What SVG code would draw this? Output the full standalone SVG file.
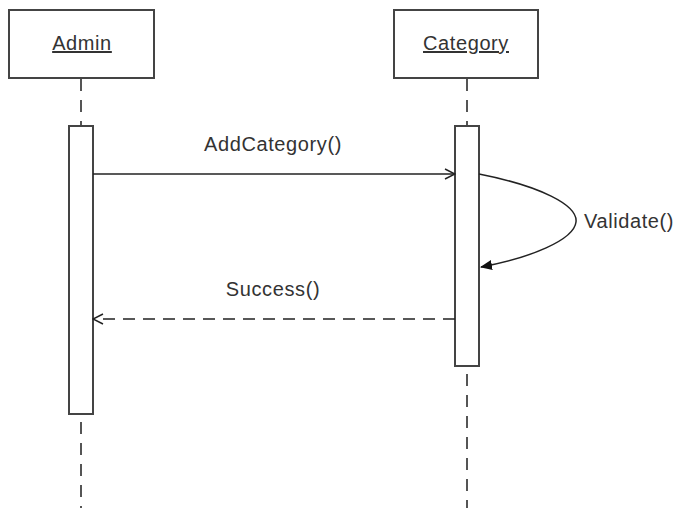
<svg xmlns="http://www.w3.org/2000/svg" width="678" height="508" viewBox="0 0 678 508">
  <style>
    .box { fill: #fff; stroke: #444; stroke-width: 2; }
    .life { stroke: #555; stroke-width: 2; stroke-dasharray: 12 9; fill: none; }
    .msg { stroke: #222; stroke-width: 1.5; fill: none; }
    .ret { stroke: #222; stroke-width: 1.5; fill: none; stroke-dasharray: 12 8; }
    text { font-family: "Liberation Sans", Arial, sans-serif; font-size: 20px; letter-spacing: 0.6px; fill: #333; }
    .name { text-anchor: middle; text-decoration: underline; }
  </style>
  <defs>
    <marker id="open" viewBox="0 0 12 12" refX="11" refY="6" markerWidth="12" markerHeight="12" markerUnits="userSpaceOnUse" orient="auto">
      <path d="M1,1 L11,6 L1,11" fill="none" stroke="#222" stroke-width="1.5"/>
    </marker>
    <marker id="solid" viewBox="0 0 12 12" refX="11" refY="6" markerWidth="12" markerHeight="12" markerUnits="userSpaceOnUse" orient="auto">
      <path d="M0,1 L12,6 L0,11 Z" fill="#111"/>
    </marker>
  </defs>

  <!-- lifelines -->
  <g id="lifelines">
    <line class="life" x1="81" y1="79" x2="81" y2="126"/>
    <line class="life" x1="81" y1="422" x2="81" y2="508"/>
    <line class="life" x1="467" y1="79" x2="467" y2="126"/>
    <line class="life" x1="467" y1="374" x2="467" y2="508"/>
  </g>

  <g id="admin">
    <rect class="box" x="9" y="10" width="145" height="68"/>
    <text class="name" x="82" y="50">Admin</text>
    <rect class="box" x="69" y="126" width="24" height="288"/>
  </g>

  <g id="category">
    <rect class="box" x="394" y="10" width="144" height="68"/>
    <text class="name" x="466" y="50">Category</text>
    <rect class="box" x="455" y="126" width="24" height="240"/>
  </g>

  <g id="connectors">
    <line class="msg" x1="93" y1="174" x2="455" y2="174" marker-end="url(#open)"/>
    <text x="273" y="151" text-anchor="middle">AddCategory()</text>
    <path class="msg" d="M479,174 C540,186 578,205 576,222 C574,240 530,258 481,267" marker-end="url(#solid)"/>
    <text x="584" y="228">Validate()</text>
    <line class="ret" x1="455" y1="319" x2="93" y2="319" marker-end="url(#open)"/>
    <text x="273" y="296" text-anchor="middle">Success()</text>
  </g>
</svg>
